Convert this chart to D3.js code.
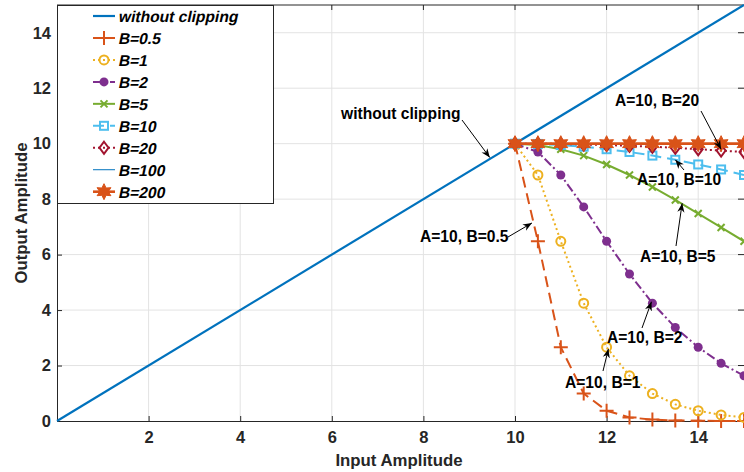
<!DOCTYPE html>
<html>
<head>
<meta charset="utf-8">
<script src="https://cdn.jsdelivr.net/npm/d3@7"></script>
<style>
  html, body { margin: 0; padding: 0; background: #fff; }
  svg { display: block; font-family: "Liberation Sans", Arial, sans-serif; }
</style>
</head>
<body>
<svg id="chart" width="744" height="472"></svg>
<script>
// input amplitudes where the clipped curves are sampled
const xs = [10, 10.5, 11, 11.5, 12, 12.5, 13, 13.5, 14, 14.5, 15];
const direct = [[0, 0], [15, 15]];

const b05  = [10, 6.48, 2.66, 0.99, 0.37, 0.13, 0.05, 0.02, 0.01, 0.0, 0.0];
const b1   = [10, 8.87, 6.48, 4.25, 2.66, 1.63, 0.99, 0.60, 0.37, 0.22, 0.13];
const b2   = [10, 9.70, 8.87, 7.72, 6.48, 5.30, 4.25, 3.37, 2.66, 2.08, 1.63];
const b5   = [10, 9.95, 9.80, 9.57, 9.25, 8.87, 8.44, 7.97, 7.48, 6.98, 6.48];
const b10  = [10, 9.99, 9.95, 9.89, 9.80, 9.70, 9.57, 9.42, 9.25, 9.07, 8.87];
const b20  = [10, 10.0, 9.99, 9.97, 9.95, 9.92, 9.89, 9.85, 9.80, 9.75, 9.70];
const b100 = [10, 10.0, 10.0, 10.0, 10.0, 9.99, 9.99, 9.99, 9.99, 9.99, 9.99];
const b200 = [10, 10.0, 10.0, 10.0, 10.0, 10.0, 10.0, 10.0, 10.0, 10.0, 10.0];

const xTicks = [2, 4, 6, 8, 10, 12, 14];
const yTicks = [0, 2, 4, 6, 8, 10, 12, 14];

const series = [
    { name: 'without clipping', pts: direct, color: '#0072BD', width: 2.2, dash: null, marker: null },
    { name: 'B=0.5', ys: b05,  color: '#D95319', width: 2, dash: '11,6', marker: 'plus' },
    { name: 'B=1',   ys: b1,   color: '#EDB120', width: 2, dash: '2,3', marker: 'circle' },
    { name: 'B=2',   ys: b2,   color: '#7E2F8E', width: 2, dash: '9,3,2,3', marker: 'dot' },
    { name: 'B=5',   ys: b5,   color: '#77AC30', width: 2, dash: null, marker: 'cross' },
    { name: 'B=10',  ys: b10,  color: '#4DBEEE', width: 2, dash: '11,6', marker: 'square' },
    { name: 'B=20',  ys: b20,  color: '#A2142F', width: 2, dash: '2,3', marker: 'diamond' },
    { name: 'B=100', ys: b100, color: '#0072BD', width: 1, dash: null, marker: null },
    { name: 'B=200', ys: b200, color: '#D95319', width: 2.6, dash: null, marker: 'hexagram' }
];

// annotation text, its baseline anchor, and the arrow (start -> data point)
const notes = [
    { text: 'without clipping', tx: 341, ty: 119, from: [462, 120], to: [9.45, 9.5] },
    { text: 'A=10, B=0.5', tx: 420, ty: 242, from: [508, 237], to: [10.37, 7.14] },
    { text: 'A=10, B=10',  tx: 637, ty: 185, from: [684, 170], to: [13.5, 9.42] },
    { text: 'A=10, B=5',   tx: 640, ty: 262, from: [676, 246], to: [13.65, 7.85] },
    { text: 'A=10, B=2',   tx: 607, ty: 343, from: [642, 328], to: [12.98, 4.3] },
    { text: 'A=10, B=1',   tx: 565, ty: 388, from: [603, 371], to: [12.04, 2.6] },
    { text: 'A=10, B=20',  tx: 615, ty: 106, from: [701, 111], to: [14.5, 9.8] }
];

const margin = { left: 57, right: 0, top: 5, bottom: 51 };
const width = 744, height = 472;

const svg = d3.select('#chart');

const x = d3.scaleLinear().domain([0, 15]).range([margin.left, width - margin.right]);
const y = d3.scaleLinear().domain([0, 15]).range([height - margin.bottom, margin.top]);

// grid
const grid = svg.append('g').attr('stroke', '#e3e3e3').attr('stroke-width', 1);
xTicks.forEach(t => grid.append('line')
    .attr('x1', x(t)).attr('x2', x(t)).attr('y1', y(0)).attr('y2', y(15)));
yTicks.filter(t => t > 0).forEach(t => grid.append('line')
    .attr('x1', x(0)).attr('x2', x(15)).attr('y1', y(t)).attr('y2', y(t)));

// axes
const fontAxis = g => g.selectAll('text')
    .attr('font-size', 16.5).attr('font-weight', 'bold').attr('fill', '#262626')
    .attr('font-family', '"Liberation Sans", Arial, sans-serif');

svg.append('g')
    .attr('transform', `translate(0,${y(0)})`)
    .call(d3.axisBottom(x).tickValues(xTicks).tickSize(-5).tickPadding(10).tickSizeOuter(0))
    .call(g => g.select('.domain').attr('stroke', '#262626'))
    .call(g => g.selectAll('.tick line').attr('stroke', '#262626'))
    .call(fontAxis);

svg.append('g')
    .attr('transform', `translate(${x(0)},0)`)
    .call(d3.axisLeft(y).tickValues(yTicks).tickSize(-5).tickPadding(6).tickSizeOuter(0))
    .call(g => g.select('.domain').attr('stroke', '#262626'))
    .call(g => g.selectAll('.tick line').attr('stroke', '#262626'))
    .call(fontAxis);

// top border and right-side ticks
svg.append('line').attr('x1', x(0)).attr('x2', x(15)).attr('y1', y(15)).attr('y2', y(15))
    .attr('stroke', '#262626');
xTicks.forEach(t => svg.append('line').attr('x1', x(t)).attr('x2', x(t))
    .attr('y1', y(15)).attr('y2', y(15) + 5).attr('stroke', '#262626'));
yTicks.forEach(t => svg.append('line').attr('x1', x(15) - 6).attr('x2', x(15))
    .attr('y1', y(t)).attr('y2', y(t)).attr('stroke', '#262626'));

svg.append('text')
    .attr('x', 399).attr('y', 466).attr('text-anchor', 'middle')
    .attr('font-size', 16.8).attr('font-weight', 'bold').attr('fill', '#262626')
    .text('Input Amplitude');

svg.append('text')
    .attr('transform', `translate(27,${(y(0) + y(15)) / 2}) rotate(-90)`)
    .attr('text-anchor', 'middle')
    .attr('font-size', 16.8).attr('font-weight', 'bold').attr('fill', '#262626')
    .text('Output Amplitude');

// markers
const drawMarker = function (g, kind, color, cx, cy) {
    const m = g.append('g').attr('transform', `translate(${cx},${cy})`);
    if (kind === 'plus') {
        m.append('path').attr('d', 'M-7,0H7M0,-7V7').attr('stroke', color).attr('stroke-width', 2);
    } else if (kind === 'circle') {
        m.append('circle').attr('r', 4.5).attr('fill', 'none').attr('stroke', color).attr('stroke-width', 2);
    } else if (kind === 'dot') {
        m.append('circle').attr('r', 4.5).attr('fill', color);
    } else if (kind === 'cross') {
        m.append('path').attr('d', 'M-3.5,-3.5L3.5,3.5M-3.5,3.5L3.5,-3.5').attr('stroke', color).attr('stroke-width', 2);
    } else if (kind === 'square') {
        m.append('rect').attr('x', -4).attr('y', -4).attr('width', 8).attr('height', 8)
            .attr('fill', 'none').attr('stroke', color).attr('stroke-width', 2);
    } else if (kind === 'diamond') {
        m.append('path').attr('d', 'M0,-6L4.5,0L0,6L-4.5,0Z')
            .attr('fill', 'none').attr('stroke', color).attr('stroke-width', 2);
    } else if (kind === 'hexagram') {
        const pts = d3.range(12).map(i => {
            const a = i * Math.PI / 6 - Math.PI / 2;
            const r = i % 2 ? 4.2 : 8;
            return [r * Math.cos(a), r * Math.sin(a)];
        });
        m.append('path').attr('d', 'M' + pts.join('L') + 'Z')
            .attr('fill', color).attr('stroke', color).attr('stroke-width', 1);
    }
};

const line = d3.line().x(d => x(d[0])).y(d => y(d[1]));

const plot = svg.append('g');
series.forEach(s => {
    const pts = s.pts || xs.map((v, i) => [v, s.ys[i]]);
    plot.append('path')
        .datum(pts)
        .attr('d', line)
        .attr('fill', 'none')
        .attr('stroke', s.color)
        .attr('stroke-width', s.width)
        .attr('stroke-dasharray', s.dash);
    if (s.marker)
        pts.forEach(p => drawMarker(plot, s.marker, s.color, x(p[0]), y(p[1])));
});

// annotations
svg.append('defs').append('marker')
    .attr('id', 'arrow')
    .attr('viewBox', '0 0 10 10')
    .attr('refX', 10).attr('refY', 5)
    .attr('markerWidth', 9).attr('markerHeight', 9)
    .attr('markerUnits', 'userSpaceOnUse')
    .attr('orient', 'auto')
    .append('path').attr('d', 'M0,1L10,5L0,9L3,5Z').attr('fill', '#000');

notes.forEach(n => {
    svg.append('line')
        .attr('x1', n.from[0]).attr('y1', n.from[1])
        .attr('x2', x(n.to[0])).attr('y2', y(n.to[1]))
        .attr('stroke', '#000').attr('stroke-width', 1)
        .attr('marker-end', 'url(#arrow)');
    svg.append('text')
        .attr('x', n.tx).attr('y', n.ty)
        .attr('font-size', 15.6).attr('font-weight', 'bold').attr('fill', '#000')
        .text(n.text);
});

// legend
const legend = svg.append('g');
legend.append('rect')
    .attr('x', 57.5).attr('y', 5.5).attr('width', 216).attr('height', 198)
    .attr('fill', '#fff').attr('stroke', '#262626').attr('stroke-width', 1);

series.forEach((s, i) => {
    const ly = 16 + i * 21.96;
    legend.append('line')
        .attr('x1', 93).attr('x2', 115).attr('y1', ly).attr('y2', ly)
        .attr('stroke', s.color).attr('stroke-width', s.width)
        .attr('stroke-dasharray', s.dash);
    if (s.marker) drawMarker(legend, s.marker, s.color, 104, ly);
    // slanted by hand: the bold face is used upright and sheared like italic
    legend.append('text')
        .attr('transform', `translate(118,${ly + 6}) skewX(-12)`)
        .attr('font-size', 15.6).attr('font-weight', 'bold')
        .attr('fill', '#000')
        .text(s.name);
});
</script>
</body>
</html>
